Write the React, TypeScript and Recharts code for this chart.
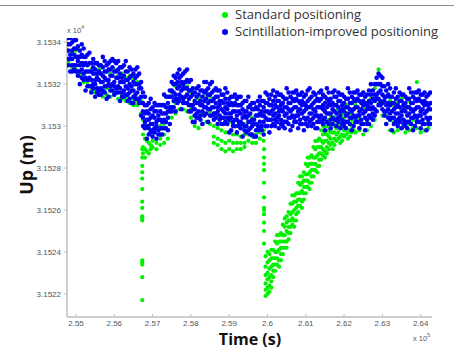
import React from "react";
import { Legend, Scatter, ScatterChart, XAxis, YAxis } from "recharts";

// time in 1e5 s, height in 1e4 m (as the axis multipliers show)
type Column = [number, number[]];

const timeTicks = [2.55, 2.56, 2.57, 2.58, 2.59, 2.6, 2.61, 2.62, 2.63, 2.64];
const upTicks = [3.1522, 3.1524, 3.1526, 3.1528, 3.153, 3.1532, 3.1534];
const seriesNames = ["Standard positioning", "Scintillation-improved positioning"];

// scintillation-improved positioning (blue)
const blueEarly: Column[] = [
  [2.548, [3.15342, 3.15339, 3.15336, 3.15332, 3.15329]],
  [2.5485, [3.15342, 3.15339, 3.15334, 3.15332, 3.15326]],
  [2.549, [3.1534, 3.15336, 3.15332, 3.15329, 3.15326]],
  [2.5495, [3.15337, 3.15334, 3.15329, 3.15327, 3.15341]],
  [2.55, [3.15341, 3.15337, 3.15333, 3.15329, 3.15326]],
  [2.5505, [3.15338, 3.15333, 3.15331, 3.15326, 3.15324]],
  [2.551, [3.15336, 3.15333, 3.15329, 3.15326, 3.1532]],
  [2.5515, [3.15334, 3.1533, 3.15327, 3.15323, 3.15339]],
  [2.552, [3.15337, 3.15333, 3.15329, 3.15325, 3.15322]],
  [2.5525, [3.15333, 3.1533, 3.15326, 3.15323, 3.15317]],
  [2.553, [3.15334, 3.15329, 3.15326, 3.15322, 3.15319]],
  [2.5535, [3.1533, 3.15326, 3.15323, 3.15319, 3.15335]],
  [2.554, [3.1533, 3.15326, 3.15322, 3.15319, 3.15316]],
  [2.5545, [3.15328, 3.15325, 3.1532, 3.15318, 3.15332]],
  [2.555, [3.1533, 3.15327, 3.15322, 3.1532, 3.15314]],
  [2.5555, [3.1533, 3.15325, 3.15323, 3.15318, 3.15316]],
  [2.556, [3.15329, 3.15326, 3.15322, 3.15317, 3.15315]],
  [2.5565, [3.15329, 3.15325, 3.15321, 3.15318, 3.15315]],
  [2.557, [3.15328, 3.15324, 3.15321, 3.15317, 3.15333]],
  [2.5575, [3.15331, 3.15326, 3.15323, 3.15319, 3.15316]],
  [2.558, [3.15329, 3.15326, 3.15322, 3.15319, 3.15313]],
  [2.5585, [3.1533, 3.15327, 3.15322, 3.1532, 3.15314]],
  [2.559, [3.15327, 3.15324, 3.15319, 3.15317, 3.15331]],
  [2.5595, [3.15332, 3.15328, 3.15324, 3.1532, 3.15317]],
  [2.56, [3.15331, 3.15326, 3.15321, 3.15319, 3.15315]],
  [2.5605, [3.15326, 3.15323, 3.15318, 3.15316, 3.1533]],
  [2.561, [3.15331, 3.15327, 3.15323, 3.15319, 3.15316]],
  [2.5615, [3.15328, 3.15325, 3.15321, 3.15318, 3.15312]],
  [2.562, [3.15328, 3.15323, 3.15321, 3.15316, 3.15314]],
  [2.5625, [3.15329, 3.15324, 3.15321, 3.15317, 3.15314]],
  [2.563, [3.15326, 3.15322, 3.15319, 3.15315, 3.15331]],
  [2.5635, [3.15326, 3.15322, 3.15318, 3.15315, 3.15312]],
  [2.564, [3.15328, 3.15323, 3.1532, 3.15316, 3.15313]],
  [2.5645, [3.15327, 3.15324, 3.15319, 3.15317, 3.15311]],
  [2.565, [3.15325, 3.15321, 3.15317, 3.15314, 3.15311]],
  [2.5655, [3.15323, 3.1532, 3.15315, 3.15313, 3.15327]],
  [2.566, [3.15328, 3.15324, 3.1532, 3.15316, 3.15313]],
  [2.5665, [3.15325, 3.1532, 3.15318, 3.15313, 3.15311]],
  [2.567, [3.15321, 3.15318, 3.15314, 3.15311, 3.15305]],
  [2.5675, [3.15311, 3.15307, 3.15304, 3.153, 3.15316]],
  [2.568, [3.15314, 3.1531, 3.15306, 3.15302, 3.15299]],
  [2.5685, [3.1531, 3.15307, 3.15303, 3.153, 3.15294]],
  [2.569, [3.15311, 3.15306, 3.15303, 3.15299, 3.15296]],
  [2.5695, [3.15308, 3.15304, 3.15301, 3.15297, 3.15313]],
  [2.57, [3.15309, 3.15305, 3.15301, 3.15298, 3.15295]],
  [2.5705, [3.15307, 3.15304, 3.15299, 3.15297, 3.15311]],
  [2.571, [3.1531, 3.15307, 3.15302, 3.153, 3.15294]],
  [2.5715, [3.1531, 3.15305, 3.15303, 3.15298, 3.15296]],
  [2.572, [3.1531, 3.15307, 3.15303, 3.15299, 3.15296]],
  [2.5725, [3.1531, 3.15306, 3.15302, 3.15299, 3.15296]],
  [2.573, [3.1531, 3.15306, 3.15303, 3.15299, 3.15315]],
  [2.5735, [3.15314, 3.15309, 3.15306, 3.15302, 3.15299]],
  [2.574, [3.15314, 3.15311, 3.15307, 3.15304, 3.15298]],
  [2.5745, [3.15317, 3.15314, 3.15309, 3.15307, 3.15301]],
  [2.575, [3.15317, 3.15314, 3.15309, 3.15307, 3.15321]],
  [2.5755, [3.15324, 3.1532, 3.15316, 3.15312, 3.15309]],
  [2.576, [3.15323, 3.1532, 3.15315, 3.15313, 3.15307]],
  [2.5765, [3.15321, 3.15318, 3.15313, 3.15311, 3.15325]],
  [2.577, [3.15327, 3.15323, 3.15319, 3.15315, 3.15312]],
  [2.5775, [3.15324, 3.15321, 3.15317, 3.15314, 3.15308]],
  [2.578, [3.15325, 3.1532, 3.15318, 3.15313, 3.15311]],
  [2.5785, [3.15326, 3.15321, 3.15318, 3.15314, 3.15311]],
  [2.579, [3.15322, 3.15318, 3.15315, 3.15311, 3.15327]],
  [2.5795, [3.15321, 3.15317, 3.15313, 3.1531, 3.15307]],
];

const blueMiddle: Column[] = [
  [2.58, [3.15322, 3.15317, 3.15314, 3.1531, 3.15307]],
  [2.5805, [3.15318, 3.15315, 3.1531, 3.15308, 3.15302]],
  [2.581, [3.15316, 3.15312, 3.15308, 3.15305, 3.15302]],
  [2.5815, [3.15314, 3.15311, 3.15306, 3.15304, 3.15318]],
  [2.582, [3.15319, 3.15315, 3.15311, 3.15307, 3.15304]],
  [2.5825, [3.15317, 3.15312, 3.1531, 3.15305, 3.15303]],
  [2.583, [3.15317, 3.15314, 3.1531, 3.15307, 3.15301]],
  [2.5835, [3.15316, 3.15312, 3.15309, 3.15305, 3.15321]],
  [2.584, [3.15321, 3.15317, 3.15313, 3.15309, 3.15306]],
  [2.5845, [3.15318, 3.15315, 3.15311, 3.15308, 3.15302]],
  [2.585, [3.1532, 3.15315, 3.15312, 3.15308, 3.15305]],
  [2.5855, [3.15316, 3.15312, 3.15309, 3.15305, 3.15321]],
  [2.586, [3.15317, 3.15313, 3.15309, 3.15306, 3.15303]],
  [2.5865, [3.15314, 3.15311, 3.15306, 3.15304, 3.15318]],
  [2.587, [3.15317, 3.15314, 3.15309, 3.15307, 3.15301]],
  [2.5875, [3.15317, 3.15312, 3.1531, 3.15305, 3.15303]],
  [2.588, [3.15315, 3.15312, 3.15308, 3.15304, 3.15301]],
  [2.5885, [3.15315, 3.15311, 3.15307, 3.15304, 3.15301]],
  [2.589, [3.15313, 3.15309, 3.15306, 3.15302, 3.15318]],
  [2.5895, [3.15316, 3.15311, 3.15308, 3.15304, 3.15301]],
  [2.59, [3.15313, 3.1531, 3.15306, 3.15303, 3.15297]],
  [2.5905, [3.15314, 3.15311, 3.15306, 3.15304, 3.15298]],
  [2.591, [3.1531, 3.15307, 3.15302, 3.153, 3.15314]],
  [2.5915, [3.15315, 3.15311, 3.15307, 3.15303, 3.153]],
  [2.592, [3.15313, 3.1531, 3.15305, 3.15303, 3.15297]],
  [2.5925, [3.1531, 3.15307, 3.15302, 3.153, 3.15314]],
  [2.593, [3.15314, 3.1531, 3.15306, 3.15302, 3.15299]],
  [2.5935, [3.15311, 3.15308, 3.15304, 3.15301, 3.15295]],
  [2.594, [3.15312, 3.15307, 3.15305, 3.153, 3.15298]],
  [2.5945, [3.15312, 3.15307, 3.15304, 3.153, 3.15297]],
  [2.595, [3.15309, 3.15305, 3.15302, 3.15298, 3.15314]],
  [2.5955, [3.1531, 3.15306, 3.15302, 3.15299, 3.15296]],
  [2.596, [3.15311, 3.15308, 3.15303, 3.153, 3.15296]],
  [2.5965, [3.15311, 3.15308, 3.15303, 3.15301, 3.15295]],
  [2.597, [3.15309, 3.15305, 3.15301, 3.15298, 3.15295]],
  [2.5975, [3.15308, 3.15305, 3.153, 3.15298, 3.15312]],
  [2.598, [3.15314, 3.1531, 3.15306, 3.15302, 3.15299]],
  [2.5985, [3.15312, 3.15307, 3.15305, 3.153, 3.15298]],
  [2.599, [3.15312, 3.15309, 3.15305, 3.15302, 3.15296]],
  [2.5995, [3.15311, 3.15307, 3.15304, 3.153, 3.15316]],
  [2.6, [3.15315, 3.15311, 3.15307, 3.15303, 3.153]],
  [2.6005, [3.15313, 3.1531, 3.15306, 3.15303, 3.15297]],
  [2.601, [3.15315, 3.1531, 3.15307, 3.15303, 3.153]],
  [2.6015, [3.15312, 3.15308, 3.15305, 3.15301, 3.15317]],
  [2.602, [3.15314, 3.1531, 3.15306, 3.15303, 3.153]],
  [2.6025, [3.15312, 3.15309, 3.15304, 3.15302, 3.15316]],
  [2.603, [3.15315, 3.15312, 3.15307, 3.15305, 3.15299]],
  [2.6035, [3.15315, 3.1531, 3.15308, 3.15303, 3.15301]],
  [2.604, [3.15314, 3.15311, 3.15307, 3.15302, 3.153]],
  [2.6045, [3.15313, 3.15309, 3.15305, 3.15302, 3.15299]],
  [2.605, [3.15313, 3.15309, 3.15306, 3.15302, 3.15318]],
  [2.6055, [3.15316, 3.15311, 3.15308, 3.15304, 3.15301]],
  [2.606, [3.15314, 3.15311, 3.15307, 3.15304, 3.15298]],
  [2.6065, [3.15316, 3.15313, 3.15308, 3.15305, 3.153]],
  [2.607, [3.15312, 3.15309, 3.15304, 3.15302, 3.15316]],
  [2.6075, [3.15317, 3.15313, 3.15309, 3.15305, 3.15302]],
  [2.608, [3.15315, 3.15312, 3.15307, 3.15305, 3.15299]],
  [2.6085, [3.15311, 3.15308, 3.15303, 3.15301, 3.15315]],
  [2.609, [3.15316, 3.15312, 3.1531, 3.15306, 3.15301]],
  [2.6095, [3.15314, 3.15311, 3.15307, 3.15304, 3.15298]],
  [2.61, [3.15315, 3.1531, 3.15308, 3.15303, 3.15301]],
  [2.6105, [3.15317, 3.15312, 3.15309, 3.15304, 3.153]],
  [2.611, [3.15313, 3.15309, 3.15306, 3.15302, 3.15318]],
  [2.6115, [3.15314, 3.1531, 3.15306, 3.15303, 3.153]],
];

const blueLate: Column[] = [
  [2.612, [3.15316, 3.15311, 3.15308, 3.15304, 3.15301]],
  [2.6125, [3.15315, 3.15312, 3.15307, 3.15305, 3.15299]],
  [2.613, [3.15313, 3.15309, 3.15305, 3.15302, 3.15299]],
  [2.6135, [3.15312, 3.15309, 3.15304, 3.15302, 3.15316]],
  [2.614, [3.15317, 3.15313, 3.15309, 3.15305, 3.15302]],
  [2.6145, [3.15315, 3.1531, 3.15308, 3.15303, 3.15301]],
  [2.615, [3.15314, 3.15311, 3.15307, 3.15304, 3.15298]],
  [2.6155, [3.15313, 3.15309, 3.15306, 3.15302, 3.15318]],
  [2.616, [3.15316, 3.15312, 3.1531, 3.15306, 3.15301]],
  [2.6165, [3.15313, 3.1531, 3.15306, 3.15303, 3.15299]],
  [2.617, [3.15316, 3.15311, 3.15308, 3.15304, 3.15301]],
  [2.6175, [3.15314, 3.1531, 3.15307, 3.15303, 3.15317]],
  [2.618, [3.15314, 3.1531, 3.15306, 3.15303, 3.153]],
  [2.6185, [3.15312, 3.15309, 3.15304, 3.15302, 3.15316]],
  [2.619, [3.15315, 3.15312, 3.15307, 3.15305, 3.15299]],
  [2.6195, [3.15315, 3.1531, 3.15308, 3.15303, 3.15301]],
  [2.62, [3.15314, 3.15311, 3.15307, 3.15302, 3.153]],
  [2.6205, [3.15313, 3.15309, 3.15305, 3.15302, 3.15299]],
  [2.621, [3.15313, 3.15309, 3.15306, 3.15302, 3.15318]],
  [2.6215, [3.15316, 3.15311, 3.15308, 3.15304, 3.15301]],
  [2.622, [3.15314, 3.15311, 3.15307, 3.15304, 3.15298]],
  [2.6225, [3.15316, 3.15313, 3.15308, 3.15305, 3.153]],
  [2.623, [3.15312, 3.15309, 3.15304, 3.15302, 3.15316]],
  [2.6235, [3.15317, 3.15313, 3.15309, 3.15305, 3.15302]],
  [2.624, [3.15315, 3.15312, 3.15307, 3.15305, 3.15299]],
  [2.6245, [3.15311, 3.15308, 3.15303, 3.15301, 3.15315]],
  [2.625, [3.15316, 3.15312, 3.1531, 3.15306, 3.15301]],
  [2.6255, [3.15314, 3.15311, 3.15307, 3.15304, 3.15298]],
  [2.626, [3.15315, 3.1531, 3.15308, 3.15303, 3.15301]],
  [2.6265, [3.15317, 3.15312, 3.15309, 3.15305, 3.15301]],
  [2.627, [3.15315, 3.15311, 3.15308, 3.15304, 3.1532]],
  [2.6275, [3.15317, 3.15313, 3.15309, 3.15306, 3.15303]],
  [2.628, [3.1532, 3.15315, 3.15312, 3.15308, 3.15305]],
  [2.6285, [3.15323, 3.1532, 3.15315, 3.15313, 3.15307]],
  [2.629, [3.15325, 3.1532, 3.15316, 3.15313, 3.1531]],
  [2.6295, [3.1532, 3.15317, 3.15312, 3.1531, 3.15324]],
  [2.63, [3.15323, 3.15319, 3.15315, 3.15311, 3.15308]],
  [2.6305, [3.15319, 3.15314, 3.15312, 3.15307, 3.15305]],
  [2.631, [3.15317, 3.15314, 3.1531, 3.15307, 3.15301]],
  [2.6315, [3.15315, 3.15311, 3.15308, 3.15304, 3.1532]],
  [2.632, [3.15318, 3.15314, 3.1531, 3.15306, 3.15303]],
  [2.6325, [3.15314, 3.15311, 3.15307, 3.15304, 3.15298]],
  [2.633, [3.15316, 3.15311, 3.15308, 3.15304, 3.15301]],
  [2.6335, [3.15313, 3.15309, 3.15306, 3.15302, 3.15318]],
  [2.634, [3.15314, 3.1531, 3.15306, 3.15303, 3.153]],
  [2.6345, [3.15312, 3.15309, 3.15304, 3.15302, 3.15316]],
  [2.635, [3.15315, 3.15312, 3.15307, 3.15305, 3.15299]],
  [2.6355, [3.15315, 3.1531, 3.15308, 3.15303, 3.15301]],
  [2.636, [3.15314, 3.15311, 3.15307, 3.15302, 3.153]],
  [2.6365, [3.15313, 3.15309, 3.15305, 3.15302, 3.15299]],
  [2.637, [3.15313, 3.15309, 3.15306, 3.15302, 3.15318]],
  [2.6375, [3.15316, 3.15311, 3.15308, 3.15304, 3.15301]],
  [2.638, [3.15314, 3.15311, 3.15307, 3.15304, 3.15298]],
  [2.6385, [3.15316, 3.15313, 3.15308, 3.15305, 3.153]],
  [2.639, [3.15312, 3.15309, 3.15304, 3.15302, 3.15316]],
  [2.6395, [3.15317, 3.15313, 3.15309, 3.15305, 3.15302]],
  [2.64, [3.15315, 3.15312, 3.15307, 3.15305, 3.15299]],
  [2.6405, [3.15311, 3.15308, 3.15303, 3.15301, 3.15315]],
  [2.641, [3.15316, 3.15312, 3.1531, 3.15306, 3.15301]],
  [2.6415, [3.15314, 3.15311, 3.15307, 3.15304, 3.15298]],
  [2.642, [3.15315, 3.1531, 3.15308, 3.15303, 3.15301]],
  [2.6425, [3.15316, 3.15311, 3.15308, 3.15304, 3.15301]],
];

// standard positioning (green)
const greenEarly: Column[] = [
  [2.548, [3.15339, 3.15331, 3.1533]],
  [2.549, [3.15335, 3.15329, 3.15328]],
  [2.55, [3.15336, 3.15327, 3.15326]],
  [2.551, [3.15333, 3.15325, 3.15324]],
  [2.552, [3.1533, 3.15322, 3.15321]],
  [2.553, [3.15329, 3.15321, 3.15319]],
  [2.554, [3.15327, 3.15319, 3.15317]],
  [2.555, [3.15325, 3.15317, 3.15316]],
  [2.556, [3.15327, 3.15318, 3.15315]],
  [2.557, [3.15324, 3.15316, 3.15314]],
  [2.558, [3.15326, 3.15318, 3.15315]],
  [2.559, [3.15325, 3.15317, 3.15314]],
  [2.56, [3.15327, 3.15316, 3.15315]],
  [2.561, [3.15324, 3.15316, 3.15313]],
  [2.562, [3.15325, 3.15315, 3.15313]],
  [2.563, [3.15323, 3.15314, 3.15312]],
  [2.564, [3.15324, 3.15313, 3.15311]],
  [2.565, [3.15322, 3.15313, 3.1531]],
  [2.566, [3.15321, 3.15312, 3.1531]],
  [2.567, [3.15318, 3.15312, 3.15306]],
  [2.5675, [3.15303, 3.15296, 3.1529, 3.15287]],
  [2.568, [3.15301, 3.15294, 3.15289, 3.15285]],
  [2.5685, [3.15299, 3.15293, 3.15288]],
  [2.569, [3.153, 3.15292, 3.15287]],
  [2.5695, [3.15298, 3.15291, 3.15289]],
  [2.57, [3.15297, 3.15293, 3.1529]],
  [2.571, [3.15299, 3.15292, 3.15289]],
  [2.572, [3.153, 3.15294, 3.15291]],
  [2.573, [3.15301, 3.15296, 3.15292]],
  [2.574, [3.15304, 3.15298, 3.15294]],
];

const greenSpike: Column[] = [
  [2.5673, [3.15289, 3.15285, 3.15281, 3.15278, 3.15275, 3.1527, 3.15264, 3.15261,
    3.15257, 3.15256, 3.15255, 3.15236, 3.15235, 3.15234, 3.15228, 3.15217]],
];

const greenDrift: Column[] = [
  [2.575, [3.15316, 3.15308, 3.15304]],
  [2.576, [3.15319, 3.15311, 3.15306]],
  [2.577, [3.1532, 3.15313, 3.15308]],
  [2.578, [3.15321, 3.15312, 3.15308]],
  [2.579, [3.15319, 3.15311, 3.15307]],
  [2.58, [3.15316, 3.15308, 3.15304]],
  [2.581, [3.15312, 3.15305, 3.153]],
  [2.582, [3.15313, 3.15304, 3.15299]],
  [2.583, [3.15314, 3.15306, 3.15301]],
  [2.584, [3.15315, 3.15306, 3.15302]],
  [2.585, [3.15314, 3.15307, 3.15301]],
  [2.586, [3.15306, 3.153, 3.15295, 3.15292]],
  [2.587, [3.15305, 3.15299, 3.15294, 3.15291]],
  [2.588, [3.15304, 3.15298, 3.15293, 3.15289]],
  [2.589, [3.15303, 3.15297, 3.15292, 3.15288]],
  [2.59, [3.15302, 3.15297, 3.15293, 3.15289]],
  [2.591, [3.15301, 3.15296, 3.15292, 3.15288]],
  [2.592, [3.153, 3.15296, 3.15292, 3.15289]],
  [2.593, [3.153, 3.15295, 3.15292, 3.15289]],
  [2.594, [3.15301, 3.15296, 3.15292, 3.1529]],
  [2.595, [3.15305, 3.15296, 3.15293]],
  [2.596, [3.15304, 3.15295, 3.15292]],
  [2.597, [3.15305, 3.15296, 3.15292]],
  [2.598, [3.15306, 3.15297, 3.15294]],
  [2.599, [3.15307, 3.15298, 3.15293]],
];

const greenDrop: Column[] = [
  [2.5991, [3.15289, 3.15285, 3.15282, 3.15279, 3.15273, 3.15266, 3.15261, 3.1526,
    3.15258, 3.15254, 3.1525, 3.15244]],
];

const greenDip: Column[] = [
  [2.5995, [3.15238, 3.15233, 3.15229, 3.15225, 3.15222, 3.15219]],
  [2.6, [3.1524, 3.15235, 3.1523, 3.15227, 3.15223, 3.1522]],
  [2.6005, [3.15239, 3.15236, 3.15232, 3.15228, 3.15224, 3.15221]],
  [2.601, [3.15241, 3.15237, 3.15233, 3.15229, 3.15226, 3.15223]],
  [2.6015, [3.15241, 3.15237, 3.15234, 3.15231, 3.15228]],
  [2.602, [3.15245, 3.1524, 3.15237, 3.15234, 3.15231]],
  [2.6025, [3.15244, 3.1524, 3.15237, 3.15234, 3.15248]],
  [2.603, [3.15248, 3.15245, 3.15241, 3.15236, 3.15233]],
  [2.6035, [3.15249, 3.15245, 3.15242, 3.15239, 3.15236]],
  [2.604, [3.15253, 3.15248, 3.15245, 3.15242, 3.15239]],
  [2.6045, [3.15252, 3.15248, 3.15245, 3.15242, 3.15256]],
  [2.605, [3.15257, 3.15254, 3.1525, 3.15245, 3.15242]],
  [2.6055, [3.15259, 3.15255, 3.15252, 3.15249, 3.15246]],
  [2.606, [3.15263, 3.15258, 3.15255, 3.15252, 3.15249]],
  [2.6065, [3.15263, 3.15259, 3.15256, 3.15253, 3.15267]],
  [2.607, [3.15267, 3.15264, 3.1526, 3.15255, 3.15252]],
  [2.6075, [3.15268, 3.15264, 3.15261, 3.15258, 3.15255]],
  [2.608, [3.15273, 3.15268, 3.15265, 3.15262, 3.15259]],
  [2.6085, [3.15272, 3.15268, 3.15265, 3.15262, 3.15276]],
  [2.609, [3.15276, 3.15273, 3.15269, 3.15264, 3.15261]],
  [2.6095, [3.15278, 3.15274, 3.15271, 3.15268, 3.15265]],
  [2.61, [3.15282, 3.15277, 3.15274, 3.15271, 3.15268]],
  [2.6105, [3.15281, 3.15277, 3.15274, 3.15271, 3.15285]],
  [2.611, [3.15285, 3.15282, 3.15278, 3.15273, 3.1527]],
  [2.6115, [3.15286, 3.15282, 3.15279, 3.15276, 3.15273]],
  [2.612, [3.1529, 3.15285, 3.15282, 3.15279, 3.15276]],
  [2.6125, [3.15289, 3.15285, 3.15282, 3.15279, 3.15293]],
  [2.613, [3.15293, 3.1529, 3.15286, 3.15281, 3.15278]],
  [2.6135, [3.15294, 3.1529, 3.15287, 3.15284, 3.15281]],
  [2.614, [3.15298, 3.15293, 3.1529, 3.15287, 3.15284]],
  [2.6145, [3.15296, 3.15292, 3.15289, 3.15286, 3.153]],
  [2.615, [3.153, 3.15297, 3.15293, 3.15288, 3.15285]],
  [2.6155, [3.153, 3.15296, 3.15293, 3.1529, 3.15287]],
  [2.616, [3.15303, 3.15298, 3.15295, 3.15292, 3.15289]],
  [2.6165, [3.15301, 3.15297, 3.15294, 3.15291, 3.15305]],
  [2.617, [3.15304, 3.15301, 3.15297, 3.15292, 3.15289]],
  [2.6175, [3.15304, 3.153, 3.15297, 3.15294, 3.15291]],
  [2.618, [3.15307, 3.15302, 3.15299, 3.15296, 3.15293]],
  [2.6185, [3.15304, 3.153, 3.15297, 3.15294, 3.15308]],
  [2.619, [3.15307, 3.15304, 3.153, 3.15295, 3.15292]],
  [2.6195, [3.15306, 3.15302, 3.15299, 3.15296, 3.15293]],
  [2.62, [3.15309, 3.15304, 3.15301, 3.15298, 3.15295]],
  [2.6205, [3.15306, 3.15302, 3.15299, 3.15296, 3.1531]],
  [2.621, [3.15309, 3.15306, 3.15302, 3.15297, 3.15294]],
  [2.6215, [3.15308, 3.15304, 3.15301, 3.15298, 3.15295]],
  [2.622, [3.15311, 3.15306, 3.15303, 3.153, 3.15297]],
  [2.6225, [3.15308, 3.15304, 3.15301, 3.15298, 3.15312]],
];

const greenLate: Column[] = [
  [2.623, [3.1531, 3.15302, 3.15297]],
  [2.624, [3.15312, 3.15303, 3.15298]],
  [2.625, [3.15309, 3.15301, 3.15296]],
  [2.626, [3.15311, 3.15302, 3.15298]],
  [2.627, [3.15313, 3.15304, 3.153]],
  [2.628, [3.15318, 3.15308, 3.15303]],
  [2.629, [3.15327, 3.1532, 3.15311]],
  [2.63, [3.15319, 3.15311, 3.15305]],
  [2.631, [3.15314, 3.15305, 3.15301]],
  [2.632, [3.15312, 3.15303, 3.15298]],
  [2.633, [3.1531, 3.15302, 3.15297]],
  [2.634, [3.15311, 3.15301, 3.15298]],
  [2.635, [3.15313, 3.15303, 3.15299]],
  [2.636, [3.1531, 3.15302, 3.15297]],
  [2.637, [3.15312, 3.15301, 3.15298]],
  [2.638, [3.15316, 3.15303, 3.15299]],
  [2.639, [3.15321, 3.15304, 3.15299]],
  [2.64, [3.15312, 3.15302, 3.15297]],
  [2.641, [3.15311, 3.15301, 3.15298]],
  [2.642, [3.1531, 3.15302, 3.15299]],
];

const toPoints = (cols: Column[]) =>
  cols.flatMap(([t, ups]) => ups.map((up) => ({ t, up })));

const standardData = toPoints([
  ...greenEarly, ...greenSpike, ...greenDrift, ...greenDrop, ...greenDip, ...greenLate,
]);
const improvedData = toPoints([...blueEarly, ...blueMiddle, ...blueLate]);

const fmt = (v: number) => String(Number(v.toFixed(4)));
const AXIS = "#bdbdbd";
const TICK_FONT = "Liberation Sans";

const BlueDot = (props: any) => (
  <circle cx={props.cx} cy={props.cy} r={2.3} fill={props.fill} />
);
const GreenDot = (props: any) => (
  <circle cx={props.cx} cy={props.cy} r={2.1} fill={props.fill} />
);

const TimeTick = ({ x, y, payload }: any) => (
  <g>
    <line x1={x} x2={x} y1={y} y2={y - 3} stroke={AXIS} />
    <text x={x} y={y + 9} textAnchor="middle" fontSize={8} fill="#555" fontFamily={TICK_FONT}>
      {fmt(payload.value)}
    </text>
  </g>
);

const TimeLabel = ({ viewBox }: any) => (
  <g>
    <text x={250} y={viewBox.y + 28} textAnchor="middle" fontSize={16} fontWeight="bold"
      fill="#111" fontFamily="Open Sans">Time (s)</text>
    <text x={413} y={viewBox.y + 24} fontSize={7.5} fill="#555" fontFamily={TICK_FONT}>
      x 10<tspan dy={-4} fontSize={5}>5</tspan>
    </text>
  </g>
);

const UpLabel = ({ viewBox }: any) => (
  <g>
    <text x={26} y={165} transform="rotate(-90 26 165)" textAnchor="middle" dominantBaseline="central"
      fontSize={18} fontWeight="bold" fill="#111" fontFamily="Open Sans">Up (m)</text>
    <text x={viewBox.x + viewBox.width} y={33} fontSize={7.5} fill="#555" fontFamily={TICK_FONT}>
      x 10<tspan dy={-4} fontSize={5}>4</tspan>
    </text>
  </g>
);

const LegendBox = ({ payload }: any) => {
  const items = [...(payload || [])].sort(
    (a: any, b: any) => seriesNames.indexOf(a.value) - seriesNames.indexOf(b.value),
  );
  return (
    <div style={{ fontFamily: "Open Sans", fontSize: 13, color: "#333", lineHeight: "17px" }}>
      {items.map((p: any) => (
        <div key={p.value} style={{ display: "flex", alignItems: "center", whiteSpace: "nowrap" }}>
          <span style={{ display: "inline-block", width: 6, height: 6, borderRadius: "50%",
            background: p.color, marginRight: 7 }} />
          {p.value}
        </div>
      ))}
    </div>
  );
};

export default function App() {
  return (
    <div style={{ position: "absolute", left: 0, top: 0, width: 454, height: 349, background: "#fff" }}>
      <div style={{ position: "absolute", left: 0, top: 5, width: 454, height: 1, background: "#8a8a8a" }} />
      <ScatterChart width={454} height={349} margin={{ top: 38, right: 22, bottom: 0, left: 7 }}>
        <XAxis type="number" dataKey="t" domain={[2.54765, 2.64295]} ticks={timeTicks}
          allowDataOverflow height={32} tickSize={0} tickMargin={0} tickLine={false}
          axisLine={{ stroke: AXIS, strokeWidth: 1.5 }} tick={<TimeTick />} label={TimeLabel} />
        <YAxis type="number" dataKey="up" domain={[3.15209, 3.15342]} ticks={upTicks}
          allowDataOverflow width={60} tickSize={3} tickMargin={3} tickFormatter={fmt}
          axisLine={{ stroke: AXIS, strokeWidth: 1.5 }} tickLine={{ stroke: AXIS }}
          tick={{ fontSize: 8, fill: "#555", fontFamily: TICK_FONT }} label={UpLabel} />
        <Legend layout="vertical" align="center" verticalAlign="middle" content={<LegendBox />}
          wrapperStyle={{ left: 222, top: 6, width: "auto" }} />
        <Scatter name={seriesNames[0]} data={standardData} fill="#00f000"
          shape={GreenDot} isAnimationActive={false} />
        <Scatter name={seriesNames[1]} data={improvedData} fill="#0000f5"
          shape={BlueDot} isAnimationActive={false} />
      </ScatterChart>
    </div>
  );
}
